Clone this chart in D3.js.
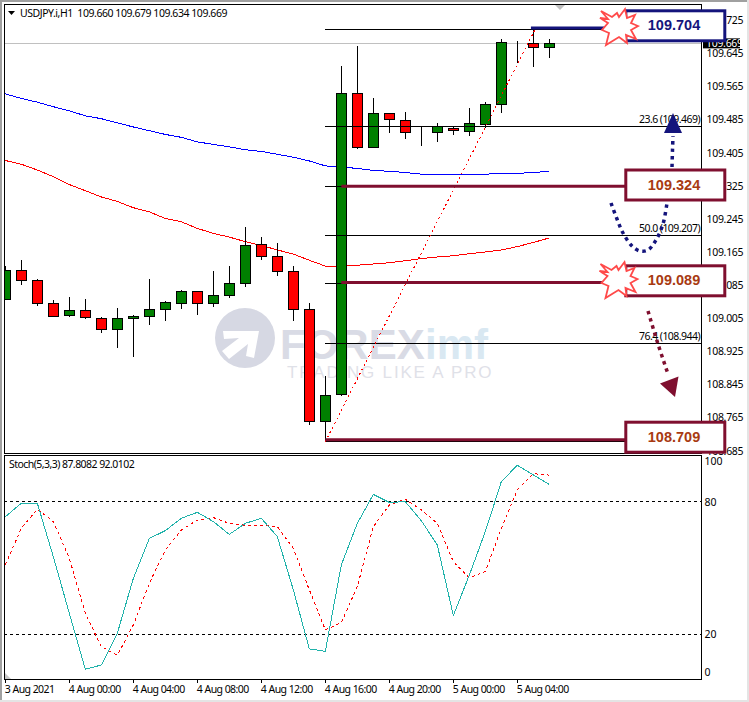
<!DOCTYPE html>
<html>
<head>
<meta charset="utf-8">
<script src="https://cdn.jsdelivr.net/npm/d3@7"></script>
<style>
  html, body { margin: 0; padding: 0; background: #fff; }
  svg { display: block; }
  text { font-family: "Noto Sans", sans-serif; fill: #000; }
</style>
</head>
<body>
<svg id="chart" width="749" height="702"></svg>
<script>
// hourly candles, 3 Aug 20:00 to 5 Aug 04:00
var opens = [109.050,109.121,109.096,109.041,109.011,109.024,109.004,108.978,109.004,109.009,109.026,109.041,109.070,109.041,109.060,109.089,109.183,109.154,109.118,109.026,108.756,108.821,109.548,109.418,109.500,109.483,109.454,109.454,109.464,109.456,109.473,109.522,109.670,109.669,109.660];
var highs = [109.131,109.145,109.099,109.049,109.056,109.051,109.008,109.029,109.012,109.099,109.046,109.073,109.070,109.119,109.131,109.226,109.201,109.186,109.131,109.041,108.865,109.614,109.663,109.537,109.500,109.503,109.469,109.476,109.469,109.513,109.527,109.679,109.674,109.704,109.679];
var lows = [109.050,109.085,109.035,109.009,109.008,109.003,108.970,108.933,108.912,108.988,108.999,109.028,109.013,109.032,109.054,109.081,109.146,109.107,108.999,108.747,108.709,108.817,109.414,109.418,109.453,109.439,109.422,109.431,109.448,109.446,109.464,109.501,109.621,109.613,109.634];
var closes = [109.121,109.096,109.041,109.009,109.024,109.007,108.978,109.004,109.010,109.026,109.043,109.070,109.041,109.060,109.089,109.181,109.154,109.118,109.026,108.756,108.818,109.548,109.418,109.500,109.485,109.454,109.454,109.469,109.459,109.476,109.522,109.672,109.670,109.659,109.669];

// moving averages
var maBlue = [109.547,109.536,109.527,109.516,109.506,109.494,109.487,109.477,109.467,109.458,109.449,109.442,109.431,109.425,109.419,109.412,109.408,109.401,109.394,109.385,109.373,109.370,109.367,109.362,109.360,109.357,109.353,109.352,109.352,109.351,109.353,109.355,109.355,109.357,109.360];
var maRed = [109.386,109.377,109.363,109.347,109.328,109.313,109.298,109.287,109.272,109.262,109.246,109.238,109.222,109.210,109.201,109.190,109.181,109.170,109.160,109.145,109.131,109.131,109.133,109.136,109.139,109.144,109.149,109.153,109.156,109.161,109.165,109.170,109.178,109.188,109.199];

// stochastic
var stochMain = [73.2,79.3,79.3,55.1,29.5,4.2,6.1,20.5,45.3,63.4,66.9,72.5,75.2,71.0,65.2,70.2,72.5,64.2,40.1,13.4,12.3,51.4,70.2,83.3,79.7,80.0,71.4,60.4,28.5,46.8,66.5,89.1,96.5,92.1,87.8082];
var stochSignal = [51.4,68.0,76.6,71.0,54.4,29.5,14.4,10.5,24.2,43.1,58.2,67.2,71.7,72.8,70.2,69.3,69.3,68.7,58.9,40.1,22.0,25.3,41.6,68.7,78.5,81.1,76.3,70.2,52.9,45.6,48.4,67.9,85.3,92.7,92.0102];
var stochLevels = [80, 20];
var stochTicks = [100, 80, 20, 0];

// axis labels
var priceTicks = [109.725,109.645,109.565,109.485,109.405,109.325,109.245,109.165,109.085,109.005,108.925,108.845,108.765,108.685];
var timeTicks = [0,4,8,12,16,20,24,28,32];
var timeLabels = ["3 Aug 2021","4 Aug 00:00","4 Aug 04:00","4 Aug 08:00","4 Aug 12:00","4 Aug 16:00","4 Aug 20:00","5 Aug 00:00","5 Aug 04:00"];

// fibonacci levels and the labels that can be seen
var fibPrices = [109.704,109.469,109.324,109.207,109.089,108.944,108.709];
var fibTags = ["","23.6","","50.0","","76.4",""];
var bidPrice = 109.669;

var svg = d3.select("#chart");

var x = d3.scaleLinear().domain([0, 34]).range([5.33, 549.33]);
var y = d3.scaleLinear().domain([109.645, 108.685]).range([53.3, 450.7]);
var yStoch = d3.scaleLinear().domain([0, 100]).range([678.5, 457.5]);

function snap(v) { return Math.floor(v) + 0.5; }

var idx = d3.range(opens.length);

// outer window edge
svg.append("rect").attr("x", 0).attr("y", 0).attr("width", 2).attr("height", 702).attr("fill", "#a0a0a0");
svg.append("rect").attr("x", 0).attr("y", 0).attr("width", 749).attr("height", 2).attr("fill", "#a0a0a0");
svg.append("rect").attr("x", 0).attr("y", 700).attr("width", 749).attr("height", 2).attr("fill", "#e4e4e4");
svg.append("rect").attr("x", 747).attr("y", 0).attr("width", 2).attr("height", 702).attr("fill", "#e4e4e4");

var defs = svg.append("defs");
defs.append("clipPath").attr("id", "clipTop").append("rect")
  .attr("x", 4.5).attr("y", 4.5).attr("width", 697).attr("height", 448.5);
defs.append("clipPath").attr("id", "clipBottom").append("rect")
  .attr("x", 4.5).attr("y", 455.5).attr("width", 697).attr("height", 224);

// watermark
var mark = svg.append("g");
mark.append("circle").attr("cx", 245).attr("cy", 338).attr("r", 30).attr("fill", "#d6d8e3");
mark.append("polygon")
  .attr("points", "223,331 259,331 254,358 246,356 248,344 229,359 222,351 239,338 224,339")
  .attr("fill", "#fff");
mark.append("text").attr("x", 280).attr("y", 359)
  .attr("font-size", 42).attr("font-weight", 700)
  .style("font-family", "'Liberation Sans', sans-serif").style("fill", "#d9dbe5")
  .text("FOREX");
mark.append("text").attr("x", 425).attr("y", 359)
  .attr("font-size", 42).attr("font-weight", 700)
  .style("font-family", "'Liberation Sans', sans-serif").style("fill", "#d9e8f2")
  .text("imf");
mark.append("text").attr("x", 287).attr("y", 378)
  .attr("font-size", 17).attr("letter-spacing", 1.8)
  .style("font-family", "'Liberation Sans', sans-serif").style("fill", "#dfe1e8")
  .text("TRADING LIKE A PRO");

// bid line
var main = svg.append("g").attr("clip-path", "url(#clipTop)");
main.append("line")
  .attr("x1", 4).attr("x2", 702)
  .attr("y1", snap(y(bidPrice))).attr("y2", snap(y(bidPrice)))
  .attr("stroke", "#c0c0c0");

// moving averages
var maLine = d3.line().x(function (d, i) { return x(i); }).y(function (d) { return y(d); });
main.append("path").attr("d", maLine(maBlue)).attr("fill", "none").attr("stroke", "#0000ff").attr("shape-rendering", "crispEdges");
main.append("path").attr("d", maLine(maRed)).attr("fill", "none").attr("stroke", "#ff0000").attr("shape-rendering", "crispEdges");

// candles
var candles = main.selectAll("g.candle").data(idx).enter().append("g").attr("class", "candle")
  .attr("shape-rendering", "crispEdges");
candles.append("line")
  .attr("x1", function (i) { return snap(x(i)); })
  .attr("x2", function (i) { return snap(x(i)); })
  .attr("y1", function (i) { return y(highs[i]); })
  .attr("y2", function (i) { return y(lows[i]); })
  .attr("stroke", "#000");
candles.append("rect")
  .attr("x", function (i) { return snap(x(i)) - 5; })
  .attr("width", 10)
  .attr("y", function (i) { return snap(y(Math.max(opens[i], closes[i]))); })
  .attr("height", function (i) { return Math.abs(y(opens[i]) - y(closes[i])); })
  .attr("fill", function (i) { return closes[i] >= opens[i] ? "#008000" : "#ff0000"; })
  .attr("stroke", "#000");

// fibonacci retracement
main.selectAll("line.fib").data(fibPrices).enter().append("line").attr("class", "fib")
  .attr("x1", x(20)).attr("x2", 702)
  .attr("y1", function (d) { return snap(y(d) + 0.5); })
  .attr("y2", function (d) { return snap(y(d) + 0.5); })
  .attr("stroke", "#000").attr("shape-rendering", "crispEdges");
main.selectAll("text.fib").data(fibPrices).enter().append("text").attr("class", "fib")
  .filter(function (d, i) { return fibTags[i] != ""; })
  .attr("x", 700).attr("y", function (d) { return y(d) - 3; })
  .attr("text-anchor", "end").attr("font-size", 10.5).attr("letter-spacing", -0.55)
  .text(function (d) { return fibTags[fibPrices.indexOf(d)] + " (" + d.toFixed(3) + ")"; });
main.append("line")
  .attr("x1", x(20)).attr("y1", y(108.709) + 1)
  .attr("x2", x(33) + 2).attr("y2", y(109.704))
  .attr("stroke", "#ff0000").attr("stroke-dasharray", "2 3").attr("shape-rendering", "crispEdges");

// axes
var yAxis = d3.axisRight(y).tickValues(priceTicks).tickSize(0).tickPadding(5)
  .tickFormat(function (d) { return d.toFixed(3); });
var yAxisG = svg.append("g").attr("transform", "translate(701.5,0)").call(yAxis);
yAxisG.select(".domain").remove();
yAxisG.selectAll("text").attr("font-size", 10.5).attr("letter-spacing", -0.3).attr("font-family", null);

var yStochAxis = d3.axisRight(yStoch).tickValues(stochTicks).tickSize(0).tickPadding(3);
var yStochG = svg.append("g").attr("transform", "translate(701.5,0)").call(yStochAxis);
yStochG.select(".domain").remove();
// the outer labels sit inside the panel
yStochG.selectAll("text").attr("font-size", 10.5).attr("font-family", null)
  .attr("y", function (d) { return d == 100 ? 4 : (d == 0 ? -6 : 0); });

var xAxis = d3.axisBottom(x).tickValues(timeTicks).tickSize(3).tickPadding(3)
  .tickFormat(function (d, i) { return timeLabels[i]; });
var xAxisG = svg.append("g").attr("transform", "translate(0,679.5)").call(xAxis);
xAxisG.select(".domain").remove();
xAxisG.selectAll("text").attr("font-size", 10.5).attr("font-family", null).attr("letter-spacing", -0.55)
  .attr("text-anchor", "start").attr("dx", -1);
xAxisG.selectAll("line").attr("shape-rendering", "crispEdges");

// stochastic panel
var low = svg.append("g").attr("clip-path", "url(#clipBottom)");
low.selectAll("line.level").data(stochLevels).enter().append("line").attr("class", "level")
  .attr("x1", 4).attr("x2", 702)
  .attr("y1", function (d) { return snap(yStoch(d)); })
  .attr("y2", function (d) { return snap(yStoch(d)); })
  .attr("stroke", "#000").attr("stroke-dasharray", "3 3").attr("shape-rendering", "crispEdges");
var stochLine = d3.line().x(function (d, i) { return x(i); }).y(function (d) { return yStoch(d); });
low.append("path").attr("d", stochLine(stochSignal)).attr("fill", "none")
  .attr("stroke", "#ff0000").attr("stroke-dasharray", "3 3").attr("shape-rendering", "crispEdges");
low.append("path").attr("d", stochLine(stochMain)).attr("fill", "none").attr("stroke", "#20b2aa").attr("shape-rendering", "crispEdges");
low.append("polygon").attr("points", "4,672 11,679 4,679").attr("fill", "#c8c8c8");

// panel frames
var frames = svg.append("g").attr("fill", "none").attr("stroke", "#000").attr("shape-rendering", "crispEdges");
frames.append("rect").attr("x", 4.5).attr("y", 4.5).attr("width", 697).attr("height", 448.5);
frames.append("rect").attr("x", 4.5).attr("y", 455.5).attr("width", 697).attr("height", 224);

// titles and chart markers
svg.append("polygon").attr("points", "8,11 15,11 11.5,15").attr("fill", "#000");
svg.append("text").attr("x", 20).attr("y", 16.5).attr("font-size", 10.5).attr("letter-spacing", -0.45)
  .attr("xml:space", "preserve").style("white-space", "pre")
  .text("USDJPY.i,H1  109.660 109.679 109.634 109.669");
svg.append("text").attr("x", 9).attr("y", 468).attr("font-size", 10.5).attr("letter-spacing", -0.55)
  .text("Stoch(5,3,3) 87.8082 92.0102");
svg.append("polygon").attr("points", "555,5 565,5 560,10").attr("fill", "#c0c0c0");

// current price tag
svg.append("rect").attr("x", 703).attr("y", y(bidPrice) - 5).attr("width", 37).attr("height", 10).attr("fill", "#000");
svg.append("text").attr("x", 706).attr("y", y(bidPrice) + 4).attr("font-size", 10.5).attr("letter-spacing", -0.3)
  .style("fill", "#fff").text(bidPrice.toFixed(3));

// ---- hand drawn analysis on top of the chart ----
var navy = "#14147c";
var maroon = "#7f0f2f";
var maroonText = "#a83a12";

// level lines
var levels = [
  { price: 109.704, from: 32.85, to: 605, color: navy, dy: -1 },
  { price: 109.324, from: 21, to: 625, color: maroon, dy: 0 },
  { price: 109.089, from: 21, to: 605, color: maroon, dy: -1 },
  { price: 108.709, from: 20, to: 625, color: maroon, dy: -1 }
];
svg.selectAll("line.level-line").data(levels).enter().append("line").attr("class", "level-line")
  .attr("x1", function (d) { return x(d.from); }).attr("x2", function (d) { return d.to; })
  .attr("y1", function (d) { return y(d.price) + d.dy; }).attr("y2", function (d) { return y(d.price) + d.dy; })
  .attr("stroke", function (d) { return d.color; }).attr("stroke-width", 3);

// price boxes
var boxes = [
  { text: "109.704", top: 10.8, color: navy, ink: navy },
  { text: "109.324", top: 170, color: maroon, ink: maroonText },
  { text: "109.089", top: 265.8, color: maroon, ink: maroonText },
  { text: "108.709", top: 422.2, color: maroon, ink: maroonText }
];
var boxG = svg.selectAll("g.box").data(boxes).enter().append("g").attr("class", "box");
boxG.append("rect")
  .attr("x", 625.8).attr("y", function (d) { return d.top; })
  .attr("width", 99).attr("height", 30)
  .attr("fill", "#fff").attr("stroke", function (d) { return d.color; }).attr("stroke-width", 3);
boxG.append("text")
  .attr("x", 674).attr("y", function (d) { return d.top + 19.5; })
  .attr("text-anchor", "middle").attr("font-size", 14.5).attr("font-weight", 700)
  .style("font-family", "'Liberation Sans', sans-serif")
  .style("fill", function (d) { return d.ink; })
  .text(function (d) { return d.text; });

// bursts
var burstShape = [[-18,-15],[-7,-9],[-2,-13],[0,-9],[6,-17],[8,-8],[16,-11],[12,-3],[19,0],[12,4],[17,13],[7,9],[8,17],[0,11],[-13,19],[-10,7],[-17,4],[-11,-3],[-19,-8],[-11,-7]];
[[619, 26], [618.5, 279]].forEach(function (c) {
  svg.append("polygon")
    .attr("points", burstShape.map(function (p) { return (c[0] + p[0]) + "," + (c[1] + p[1]); }).join(" "))
    .attr("fill", "#fff").attr("stroke", "#ff4a4a").attr("stroke-width", 1.8);
});

// dotted arrows
var curve = d3.line().curve(d3.curveCatmullRom);
svg.append("path")
  .attr("d", curve([[611,203],[617,219],[623,233],[632,246],[640,251],[648,250],[656,240],[663,224],[667,203]]))
  .attr("fill", "none").attr("stroke", navy).attr("stroke-width", 3.5).attr("stroke-dasharray", "3.5 4");
svg.append("path")
  .attr("d", curve([[672,167],[672.5,150],[673,136]]))
  .attr("fill", "none").attr("stroke", navy).attr("stroke-width", 3.5).attr("stroke-dasharray", "3.5 4");
svg.append("polygon").attr("points", "673,113 664,133 682,133").attr("fill", navy);
svg.append("path")
  .attr("d", curve([[648,311],[658,344],[668,374]]))
  .attr("fill", "none").attr("stroke", maroon).attr("stroke-width", 3.5).attr("stroke-dasharray", "3.5 4");
svg.append("polygon").attr("points", "660,383.5 678.5,376.5 675,397").attr("fill", maroon);
</script>
</body>
</html>
